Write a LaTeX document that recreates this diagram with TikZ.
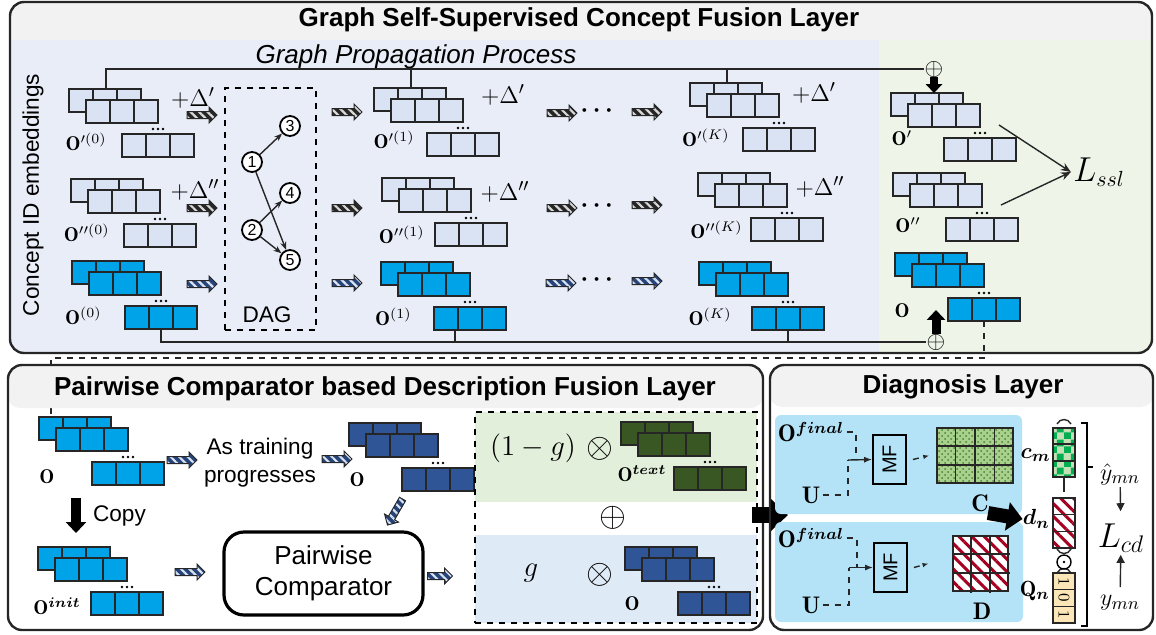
\documentclass[tikz,border=0pt]{standalone}
\usepackage{amsmath,amssymb,bm}
\usepackage{fontspec}
\setsansfont{Liberation Sans}
\usetikzlibrary{positioning,calc,arrows.meta,patterns,patterns.meta}

\definecolor{lightcell}{HTML}{DAE3F3}
\definecolor{brightcell}{HTML}{00A2E8}
\definecolor{darkcell}{HTML}{2F5597}
\definecolor{greencell}{HTML}{385723}
\definecolor{bandgray}{HTML}{F2F2F2}
\definecolor{propbg}{HTML}{E9EDF7}
\definecolor{sslbg}{HTML}{EEF5E8}
\definecolor{textbg}{HTML}{E2EFDA}
\definecolor{idbg}{HTML}{DEEAF6}
\definecolor{diagbg}{HTML}{B4E3F7}
\definecolor{stripered}{HTML}{A50021}
\definecolor{qcell}{HTML}{FCE6B8}
\definecolor{cgreen}{HTML}{A9D18E}
\definecolor{cdark}{HTML}{4E8030}
\definecolor{chkgreen}{HTML}{00B050}
\definecolor{chklight}{HTML}{C5E0B4}
\definecolor{linegray}{HTML}{262626}

\pgfdeclarepatternformonly{bigchecker}{\pgfpointorigin}{\pgfqpoint{7pt}{7pt}}{\pgfqpoint{7pt}{7pt}}{%
  \pgfpathrectangle{\pgfpointorigin}{\pgfqpoint{3.5pt}{3.5pt}}%
  \pgfpathrectangle{\pgfqpoint{3.5pt}{3.5pt}}{\pgfqpoint{3.5pt}{3.5pt}}%
  \pgfusepath{fill}}

\tikzset{
  panel/.style={draw=linegray, line width=1.2pt, rounded corners=7pt},
  cellbox/.style={draw=linegray, line width=0.8pt},
  paneltitle/.style={font=\sffamily\bfseries\fontsize{13}{15}\selectfont},
  bodytxt/.style={font=\sffamily\fontsize{11.3}{14}\selectfont, align=center},
  lbl/.style={font=\fontsize{10}{12}\selectfont, inner sep=0pt},
  dlt/.style={font=\fontsize{12.5}{14}\selectfont, inner sep=0pt},
  dots/.style={font=\fontsize{13}{13}\selectfont, inner sep=0pt},
  conn/.style={draw=linegray, line width=0.7pt},
  dnode/.style={circle, draw=black, line width=0.9pt, fill=white, minimum size=10pt, inner sep=0pt, font=\sffamily\fontsize{8}{8}\selectfont},
  harrow/.style={draw=linegray, line width=0.5pt, pattern={Lines[angle=-45,distance=3pt,line width=1.1pt]}},
  darr/.style={harrow, preaction={fill=black!85}, pattern color=white!85!black},
  barr/.style={harrow, preaction={fill=darkcell!80!black}, pattern color=lightcell},
  thinarr/.style={conn, -{Stealth[length=5pt,width=4pt]}},
  blockarr/.style={line width=#1, -{Triangle[length=0pt 1.1, width=0pt 2]}},
  mfbox/.style={draw=black, line width=0.9pt, minimum width=16.5pt, minimum height=24.5pt, inner sep=0pt, font=\sffamily\fontsize{10}{10}\selectfont},
  sym/.style={font=\fontsize{#1}{#1}\selectfont, inner sep=0pt},
}

% one concept embedding table: name, origin, cell colour
\newcommand{\emb}[3]{%
  \begin{scope}[shift={(#2)}]
    \coordinate (#1) at (0,0);
    \coordinate (#1-t) at (37,0);
    \coordinate (#1-b) at (89,68);
    \coordinate (#1-r) at (108,32);
    \coordinate (#1-l) at (53,57);
    \foreach \i in {0,1,2} \draw[cellbox,fill=#3] (24*\i,0) rectangle ++(24,23);
    \foreach \i in {0,1,2} \draw[cellbox,fill=#3] (17+24*\i,11) rectangle ++(24,23);
    \foreach \i in {0,1,2} \draw[cellbox,fill=#3] (53+24*\i,45) rectangle ++(24,23);
    \foreach \d in {-5,0,5} \fill (89+\d,40) circle (1.4);
  \end{scope}}

% hatched block arrow: [half length] name, centre, angle, style
\newcommand{\harr}[5][15]{%
  \begin{scope}[shift={(#3)}, rotate=#4]
    \coordinate (#2) at (0,0);
    \path[#5] (-#1,-3.5) -- (#1-8,-3.5) -- (#1-8,-8) -- (#1,0) -- (#1-8,8) -- (#1-8,3.5) -- (-#1,3.5) -- cycle;
  \end{scope}}

\begin{document}
\begin{tikzpicture}[x=0.5pt,y=-0.5pt]
\useasboundingbox (0,0) rectangle (1156,634);

% ---------- graph self-supervised layer ----------
\begin{scope}
  \clip[rounded corners=7pt] (10,2) rectangle (1152,353);
  \fill[bandgray] (10,2) rectangle (1152,40);
  \fill[propbg] (10,40) rectangle (879,353);
  \fill[sslbg] (879,40) rectangle (1152,353);
\end{scope}
\draw[panel] (10,2) rectangle (1152,353);
\node[paneltitle] (ttl1) at (579,20) {Graph Self-Supervised Concept Fusion Layer};
\node[font=\sffamily\itshape\fontsize{13}{15}\selectfont] (gpp) at (416,57) {Graph Propagation Process};
\node[bodytxt, rotate=90] (cid) at (33,195) {Concept ID embeddings};

\emb{g1a}{69,89}{lightcell}
\emb{g1b}{374,88}{lightcell}
\emb{g1c}{690,83}{lightcell}
\emb{g1d}{891,93}{lightcell}
\emb{g2a}{71,179}{lightcell}
\emb{g2b}{382,178}{lightcell}
\emb{g2c}{698,173}{lightcell}
\emb{g2d}{893,173}{lightcell}
\emb{g3a}{72,261}{brightcell}
\emb{g3b}{381,262}{brightcell}
\emb{g3c}{699,262}{brightcell}
\emb{g3d}{895,253}{brightcell}

\node[lbl, anchor=east] (o1a) at (107,142) {$\mathbf{O}'^{(0)}$};
\node[lbl, anchor=east] (o1b) at (415,140) {$\mathbf{O}'^{(1)}$};
\node[lbl, anchor=east] (o1c) at (730,138) {$\mathbf{O}'^{(K)}$};
\node[lbl] (o1d) at (902,138) {$\mathbf{O}'$};
\node[lbl, anchor=east] (o2a) at (110,233) {$\mathbf{O}''^{(0)}$};
\node[lbl, anchor=east] (o2b) at (425,235) {$\mathbf{O}''^{(1)}$};
\node[lbl, anchor=east] (o2c) at (743,230) {$\mathbf{O}''^{(K)}$};
\node[lbl] (o2d) at (908,225) {$\mathbf{O}''$};
\node[lbl, anchor=east] (o3a) at (102,316) {$\mathbf{O}^{(0)}$};
\node[lbl, anchor=east] (o3b) at (412,317) {$\mathbf{O}^{(1)}$};
\node[lbl, anchor=east] (o3c) at (732,317) {$\mathbf{O}^{(K)}$};
\node[lbl] (o3d) at (902,311) {$\mathbf{O}$};

\node[dlt] (d1a) at (193,98) {$+\Delta'$};
\node[dlt] (d1b) at (503,95) {$+\Delta'$};
\node[dlt] (d1c) at (814,93) {$+\Delta'$};
\node[dlt] (d2a) at (195,190) {$+\Delta''$};
\node[dlt] (d2b) at (505,192) {$+\Delta''$};
\node[dlt] (d2c) at (820,187) {$+\Delta''$};

\harr{a1a}{202,115}{0}{darr}
\harr{a1b}{347,112}{0}{darr}
\harr{a1c}{562,113}{0}{darr}
\harr{a1d}{647,112}{0}{darr}
\harr{a2a}{202,208}{0}{darr}
\harr{a2b}{347,208}{0}{darr}
\harr{a2c}{562,208}{0}{darr}
\harr{a2d}{647,205}{0}{darr}
\harr{a3a}{202,284}{0}{barr}
\harr{a3b}{347,283}{0}{barr}
\harr{a3c}{561,283}{0}{barr}
\harr{a3d}{647,281}{0}{barr}
\node[dots] (dt1) at (599,111) {$\bm{\cdots}$};
\node[dots] (dt2) at (599,206) {$\bm{\cdots}$};
\node[dots] (dt3) at (599,280) {$\bm{\cdots}$};

% DAG
\node[draw=black, dashed, line width=0.8pt, minimum width=45.5pt, minimum height=121pt, inner sep=0pt] (dag) at (270.5,209) {};
\node[bodytxt] (daglbl) at (267,315) {DAG};
\node[dnode] (n1) at (252,162) {1};
\node[dnode] (n2) at (252,230) {2};
\node[dnode] (n3) at (290,126) {3};
\node[dnode] (n4) at (290,193) {4};
\node[dnode] (n5) at (290,260) {5};
\draw[conn, -{Stealth[length=4pt,width=3pt]}] (n1) -- (n3);
\draw[conn, -{Stealth[length=4pt,width=3pt]}] (n1) -- (n5);
\draw[conn, -{Stealth[length=4pt,width=3pt]}] (n2) -- (n4);
\draw[conn, -{Stealth[length=4pt,width=3pt]}] (n2) -- (n5);

% sums of the layers
\node[sym=13] (sumt) at (934,69) {$\oplus$};
\node[sym=13] (sumb) at (936,342) {$\oplus$};
\coordinate (tick3b) at (455,330);
\draw[conn] (g1a-t) |- (sumt.west);
\draw[conn] (g1b-t) -- (g1b-t |- sumt.west);
\draw[conn] (g1c-t) -- (g1c-t |- sumt.west);
\draw[conn] (g3a-b) |- (sumb.west);
\draw[conn] (tick3b) -- (tick3b |- sumb.west);
\draw[conn] (g3c-b) -- (g3c-b |- sumb.west);
\draw[blockarr=4pt] (sumt.south) -- (sumt.south |- g1d-t);
\draw[blockarr=4.5pt] (sumb.north) -- (sumb.north |- g3d-l);

\node[sym=16, inner sep=1pt] (lssl) at (1099,172) {$L_{ssl}$};
\draw[thinarr] (g1d-r) -- (lssl.west);
\draw[thinarr] (g2d-r) -- (lssl.west);

% hand-over to the description layer
\coordinate (dashturn) at (51,358);
\coordinate (dashend) at (51,415);
\draw[conn, line width=0.6pt, dashed] (g3d-b) |- (dashturn) -- (dashend);

% ---------- description fusion layer ----------
\begin{scope}
  \clip[rounded corners=7pt] (8,365) rectangle (763,630);
  \fill[bandgray, rounded corners=6pt] (8,365) rectangle (763,408);
\end{scope}
\draw[panel] (8,365) rectangle (763,630);
\node[paneltitle] (ttl2) at (385,389) {Pairwise Comparator based Description Fusion Layer};

\emb{g4a}{39,417}{brightcell}
\emb{g4b}{349,423}{darkcell}
\emb{g4c}{38,547}{brightcell}
\node[lbl] (o4a) at (47,477) {$\mathbf{O}$};
\node[lbl] (o4b) at (357,480) {$\mathbf{O}$};
\node[lbl, anchor=west] (o4c) at (33,606) {$\mathbf{O}^{\bm{init}}$};

\harr{b1}{182,460}{0}{barr}
\node[bodytxt] (prog) at (260,463) {As training\\progresses};
\harr{b2}{337,459}{0}{barr}
\harr{b3}{395,512}{-120}{barr}
\coordinate (cpA) at (76,498);
\coordinate (cpB) at (76,533);
\draw[blockarr=5pt] (cpA) -- (cpB);
\node[bodytxt, anchor=west] (copy) at (86,516) {Copy};
\harr{b4}{190,572}{0}{barr}
\node[draw=black, line width=1.6pt, rounded corners=10pt, minimum width=99.5pt, minimum height=41.5pt, font=\sffamily\fontsize{13}{15.5}\selectfont, align=center] (pc) at (323.5,573.5) {Pairwise\\Comparator};
\harr[12.5]{b5}{440,576}{0}{barr}

% gate box
\fill[textbg] (475,412) rectangle (757,502);
\fill[idbg] (475,535) rectangle (757,623);
\node[draw=black, dashed, line width=1.2pt, minimum width=141pt, minimum height=105.5pt, inner sep=0pt] (gatebox) at (616,517.5) {};
\emb{g4d}{621,422}{greencell}
\emb{g4e}{625,547}{darkcell}
\node[lbl] (o4d) at (642,474) {$\mathbf{O}^{\bm{text}}$};
\node[lbl] (o4e) at (632,604) {$\mathbf{O}$};
\node[sym=14] (onemg) at (533,448) {$(1-g)$};
\node[sym=16] (ot1) at (600,449) {$\otimes$};
\node[sym=17] (gsum) at (613,518) {$\oplus$};
\node[sym=14] (gg) at (531,573) {$g$};
\node[sym=16] (ot2) at (600,575) {$\otimes$};

\coordinate (jA) at (752,515);
\coordinate (jB) at (788,515);
\draw[blockarr=8pt] (jA) -- (jB);

% ---------- diagnosis layer ----------
\begin{scope}
  \clip[rounded corners=7pt] (770,365) rectangle (1153,630);
  \fill[bandgray, rounded corners=6pt] (770,365) rectangle (1153,407);
\end{scope}
\draw[panel] (770,365) rectangle (1153,630);
\node[paneltitle] (ttl3) at (963,387) {Diagnosis Layer};
\fill[diagbg, rounded corners=3pt] (775,415) rectangle (1022,514);
\fill[diagbg, rounded corners=3pt] (775,522) rectangle (1023,622);

\node[sym=12, inner sep=1pt] (of1) at (811,432) {$\mathbf{O}^{\bm{final}}$};
\node[sym=12, inner sep=1pt] (u1) at (811,495) {$\mathbf{U}$};
\node[mfbox] (mf1) at (889.5,459.5) {\rotatebox{90}{MF}};
\coordinate (j1a) at (856,460);
\coordinate (j1b) at (848,460);
\draw[conn, dashed] (of1.east) -| (j1a);
\draw[conn, dashed] (u1.east) -| (j1b);
\draw[conn, -{Latex[length=4pt]}] (j1b) -- (mf1.west);

\node[sym=12, inner sep=1pt] (of2) at (811,538) {$\mathbf{O}^{\bm{final}}$};
\node[sym=12, inner sep=1pt] (u2) at (811,605) {$\mathbf{U}$};
\node[mfbox] (mf2) at (890.5,567.5) {\rotatebox{90}{MF}};
\coordinate (j2a) at (857,567.5);
\coordinate (j2b) at (849,567.5);
\draw[conn, dashed] (of2.east) -| (j2a);
\draw[conn, dashed] (u2.east) -| (j2b);
\draw[conn, -{Latex[length=4pt]}] (j2b) -- (mf2.west);

% C and D matrices
\node[cellbox, minimum width=38pt, minimum height=27.5pt, inner sep=0pt, preaction={fill=cgreen}, pattern=crosshatch dots, pattern color=cdark] (Cm) at (975,455.5) {};
\foreach \i in {1,2,3} \draw[cellbox] ($(Cm.north west)!\i/4!(Cm.north east)$) -- ($(Cm.south west)!\i/4!(Cm.south east)$);
\foreach \i in {1,2} \draw[cellbox] ($(Cm.north west)!\i/3!(Cm.south west)$) -- ($(Cm.north east)!\i/3!(Cm.south east)$);
\node[cellbox, minimum width=27.5pt, minimum height=27.5pt, inner sep=0pt, preaction={fill=white}, pattern={Lines[angle=-45,distance=4.5pt,line width=1.5pt]}, pattern color=stripered] (Dm) at (980.5,563.5) {};
\foreach \i in {1,2} \draw[cellbox] ($(Dm.north west)!\i/3!(Dm.north east)$) -- ($(Dm.south west)!\i/3!(Dm.south east)$);
\foreach \i in {1,2} \draw[cellbox] ($(Dm.north west)!\i/3!(Dm.south west)$) -- ($(Dm.north east)!\i/3!(Dm.south east)$);
\draw[conn, dashed, -{Latex[length=3pt]}] ([xshift=3pt]mf1.east) -- ([xshift=-3.5pt]Cm.west);
\draw[conn, dashed, -{Latex[length=3pt]}] ([xshift=3pt]mf2.east) -- ([xshift=-11.5pt]Dm.west);
\node[sym=12] (Clbl) at (980,503) {$\mathbf{C}$};
\node[sym=12] (Dlbl) at (982,611) {$\mathbf{D}$};

% student / exercise vectors
\node[cellbox, minimum width=11pt, minimum height=24.5pt, inner sep=0pt, preaction={fill=chklight}, pattern=bigchecker, pattern color=chkgreen] (cvec) at (1064,452.5) {};
\node[cellbox, minimum width=11pt, minimum height=25pt, inner sep=0pt, preaction={fill=white}, pattern={Lines[angle=-45,distance=4.5pt,line width=1.5pt]}, pattern color=stripered] (dvec) at (1064,523) {};
\node[cellbox, minimum width=11pt, minimum height=25pt, inner sep=0pt, fill=qcell] (qvec) at (1064,598) {};
\foreach \v in {cvec,dvec,qvec} {
  \foreach \i in {1,2} \draw[cellbox] ($(\v.north west)!\i/3!(\v.south west)$) -- ($(\v.north east)!\i/3!(\v.south east)$);}
\node[sym=8, rotate=-90] (q1) at (1064,581.3) {1};
\node[sym=8, rotate=-90] (q2) at (1064,598) {0};
\node[sym=8, rotate=-90] (q3) at (1064,614.7) {1};
\node[sym=11, anchor=east] (cml) at (1051,455) {$\bm{c_m}$};
\node[sym=11, anchor=east] (dnl) at (1050,519) {$\bm{d_n}$};
\node[sym=11, anchor=east] (qnl) at (1050,591) {$\mathbf{Q}_{\bm{n}}$};
\coordinate (cdA) at (988,513);
\draw[blockarr=7pt] (cdA) -- (dnl.west);
\coordinate (cvend) at (1064,492);
\draw[conn] (cvec.south) -- (cvend);
\draw[conn] (1057,424) .. controls (1060,418) and (1068,418) .. (1071,424);
\draw[conn] (1057,549) .. controls (1060,555) and (1068,555) .. (1071,549);
\draw[conn] (1057,573) .. controls (1060,567) and (1068,567) .. (1071,573);
\node[circle, draw=black, line width=0.7pt, minimum size=7pt, inner sep=0pt] (hp) at (1064,562) {};
\fill (hp) circle (1.4);
\draw[line width=0.9pt] (1081,423) -- (1087,423) -- (1087,626) -- (1081,626);
\draw[line width=0.9pt] (1087,467) -- (1093,467);
\node[sym=13, inner sep=1pt] (yhat) at (1120,474) {$\hat{y}_{mn}$};
\node[sym=17, inner sep=1pt] (lcd) at (1121,538) {$L_{cd}$};
\node[sym=13, inner sep=1pt] (ymn) at (1120,603) {$y_{mn}$};
\draw[conn, -{Triangle[length=4pt,width=4pt]}, shorten >=5pt] (yhat) -- (lcd);
\draw[conn, -{Triangle[length=4pt,width=4pt]}, shorten <=3pt] (ymn) -- (lcd);
\end{tikzpicture}
\end{document}
